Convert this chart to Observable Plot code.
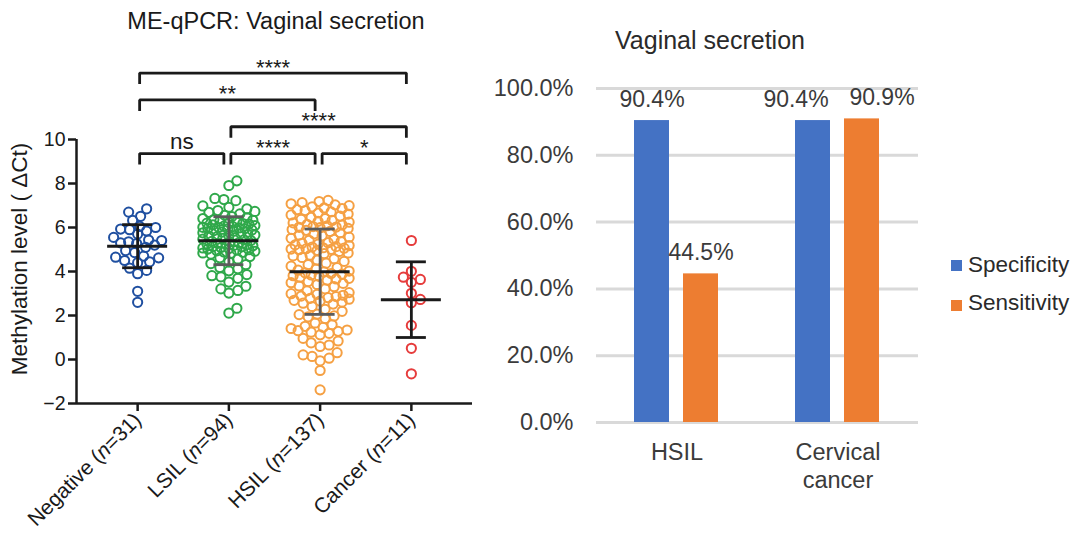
<!DOCTYPE html>
<html><head><meta charset="utf-8">
<script src="https://cdn.jsdelivr.net/npm/d3@7"></script>
<script src="https://cdn.jsdelivr.net/npm/@observablehq/plot@0.6"></script>
<style>
body{margin:0;background:#fff;}
#wrap{position:relative;width:1080px;height:547px;overflow:hidden;font-family:"Liberation Sans",Arial,Helvetica,sans-serif;color:#1a1a1a;}
.abs{position:absolute;white-space:nowrap;line-height:1;}
</style></head><body><div id="wrap"></div>
<script>
// ---------- Left panel data (ME-qPCR, ΔCt) ----------
const groups = ["Negative", "LSIL", "HSIL", "Cancer"];
const groupN = [31, 94, 137, 11];
const negative = [6.85, 6.70, 6.51, 6.32, 6.05, 6.0, 5.93, 5.9, 5.84, 5.7, 5.55, 5.43, 5.41, 5.35, 5.3, 5.27, 5.2, 5.1, 4.95, 4.86, 4.7, 4.65, 4.62, 4.5, 4.44, 4.4, 4.15, 4.05, 3.9, 3.1, 2.6];
const lsil = [8.12, 7.91, 7.32, 7.27, 7.22, 6.98, 6.92, 6.85, 6.77, 6.73, 6.69, 6.62, 6.55, 6.5,
  6.44, 6.41, 6.36, 6.33, 6.29, 6.27, 6.22, 6.18, 6.16, 6.12,
  6.09, 6.06, 6.04, 6.01, 5.98, 5.96, 5.93, 5.89, 5.86, 5.83,
  5.79, 5.76, 5.72, 5.69, 5.66, 5.61, 5.58, 5.54, 5.51, 5.47,
  5.44, 5.41, 5.37, 5.34, 5.31, 5.28, 5.26, 5.22, 5.19, 5.17,
  5.14, 5.12, 5.09, 5.07, 5.04, 5.02, 4.99, 4.97, 4.94, 4.92,
  4.89, 4.87, 4.84, 4.82, 4.79, 6.2, 6.0, 5.63, 5.24, 5.95,
  4.68, 4.57, 4.44, 4.36, 4.31, 4.18, 4.12, 4.03, 3.86, 3.81, 3.76, 3.69, 3.52, 3.33, 3.21, 3.14, 3.02, 2.33, 2.11, 4.62];
const hsil = [7.23, 7.18, 7.13, 7.08, 7.03, 6.99, 6.94, 6.89, 6.86, 6.81,
  6.77, 6.71, 6.66, 6.61, 6.57, 6.52, 6.46, 6.41, 6.37, 6.32, 6.28, 6.24, 6.21, 6.14, 6.11, 6.08, 6.04, 6.02, 5.99, 6.01,
  5.96, 5.91, 5.87, 5.82, 5.76, 5.71, 5.66, 5.62, 5.56, 5.51, 5.46, 5.42, 5.36, 5.31, 5.28, 5.24, 5.21, 5.18, 5.13, 5.11, 5.08, 5.06, 5.03, 5.01, 4.99, 5.02,
  4.96, 4.91, 4.84, 4.81, 4.74, 4.71, 4.64, 4.58, 4.52, 4.46, 4.38, 4.31, 4.24, 4.18, 4.11, 4.06, 4.02, 3.98,
  3.94, 3.91, 3.88, 3.84, 3.81, 3.78, 3.74, 3.69, 3.66, 3.61, 3.54, 3.49, 3.46, 3.41, 3.34, 3.31,
  3.21, 3.12, 3.04, 2.99, 2.96, 2.92, 2.88, 2.86, 2.81, 2.78, 2.74, 2.69, 2.66, 2.61, 2.56, 2.52,
  2.41, 2.28, 2.19, 2.06, 2.04, 1.98, 1.94, 1.86,
  1.66, 1.58, 1.51, 1.46, 1.41, 1.34, 1.31, 1.28, 1.24, 1.19, 1.12,
  0.96, 0.84, 0.76, 0.66, 0.59,
  0.31, 0.21, 0.14, 0.06, -0.06,
  -0.5, -1.38];
const cancer = [5.41, 4.01, 3.74, 3.64, 3.51, 3.01, 2.73, 2.58, 1.55, 0.51, -0.65];
const groupMeans = [5.15, 5.40, 3.99, 2.72];
const groupSDs = [0.98, 1.09, 1.94, 1.72];
const yTicks = [-2, 0, 2, 4, 6, 8, 10];
const brackets = [
  {a: 0, b: 1, tier: 0, label: "ns"},
  {a: 1, b: 2, tier: 0, label: "****"},
  {a: 2, b: 3, tier: 0, label: "*"},
  {a: 1, b: 3, tier: 1, label: "****"},
  {a: 0, b: 2, tier: 2, label: "**"},
  {a: 0, b: 3, tier: 3, label: "****"}
];
// styles
const groupColors = ["#1f4fa0", "#2fa84a", "#f5a043", "#e63c3c"];
const sdColors = ["#1a1a1a", "#5c5c5c", "#5c5c5c", "#1a1a1a"];
const swarmHalfWidth = [24, 26, 29, 24];

// ---------- Right panel data ----------
const barGroups = ["HSIL", "Cervical cancer"];
const barGroupLabels = ["HSIL", "Cervical\ncancer"];
const metrics = ["Specificity", "Sensitivity"];
const specificity = [0.904, 0.904];
const sensitivity = [0.445, 0.909];
const pctTicks = [0, 0.2, 0.4, 0.6, 0.8, 1.0];
const metricColors = ["#4472c4", "#ed7d31"];
const valueLabelShift = [0, 0, -17, 20]; // px, per bar (label collision avoidance, as in figure)

// ---------- Layout ----------
const FONT = '"Liberation Sans", Arial, Helvetica, sans-serif';
const wrap = document.getElementById("wrap");
const LW = 480, LH = 547;
const LM = {top: 51, right: 8, bottom: 144, left: 76};
const xDom = [-0.67, 3.67];
const yDom = [-2, 14];
const pxX = (LW - LM.left - LM.right) / (xDom[1] - xDom[0]);
const pxY = (LH - LM.top - LM.bottom) / (yDom[1] - yDom[0]);

// deterministic beeswarm with limited width (points may overlap, as in the figure)
function swarmOffsets(vals, minDist, maxHalf) {
  const order = d3.range(vals.length).sort((a, b) => vals[a] - vals[b]);
  const cands = [0];
  for (let k = 1; k <= maxHalf; k++) cands.push(k, -k);
  const placed = [], off = new Array(vals.length);
  for (const i of order) {
    const y = vals[i] * pxY;
    let chosen = null, bestX = 0, bestD = -1;
    for (const x of cands) {
      let md = Infinity;
      for (const p of placed) {
        const dy = p.y - y;
        if (Math.abs(dy) >= minDist) continue;
        const d = Math.hypot(p.x - x, dy);
        if (d < md) md = d;
      }
      if (md >= minDist) { chosen = x; break; }
      if (md > bestD + 1e-9) { bestD = md; bestX = x; }
    }
    const x = chosen !== null ? chosen : bestX;
    placed.push({x, y});
    off[i] = x;
  }
  return off;
}

const groupValues = [negative, lsil, hsil, cancer];
const points = groupValues.flatMap((vals, gi) => {
  const off = swarmOffsets(vals, 9, swarmHalfWidth[gi]);
  return vals.map((v, k) => ({gi, v, x: gi + off[k] / pxX, c: groupColors[gi]}));
});
const summary = groups.map((g, i) => ({i, m: groupMeans[i], s: groupSDs[i], c: sdColors[i]}));
const meanHalf = 30 / pxX, capHalf = 15 / pxX;
const tierBase = 9.36, tierStep = 1.22, legLen = 0.5;
const inL = 2 / pxX, inR = 5 / pxX;
const bracketRows = brackets.map((b, k) => {
  const yTop = tierBase + b.tier * tierStep;
  return {...b, k, xL: b.a + inL, xR: b.b - inR, yTop, yLeg: yTop - legLen};
});
const bracketPts = bracketRows.flatMap(b => [
  {k: b.k, x: b.xL, y: b.yLeg}, {k: b.k, x: b.xL, y: b.yTop},
  {k: b.k, x: b.xR, y: b.yTop}, {k: b.k, x: b.xR, y: b.yLeg}
]);
const xLabel = i => `${groups[i]} (n=${groupN[i]})`;

const left = Plot.plot({
  width: LW, height: LH,
  marginTop: LM.top, marginRight: LM.right, marginBottom: LM.bottom, marginLeft: LM.left,
  x: {type: "linear", domain: xDom, axis: null},
  y: {domain: yDom, axis: null},
  color: {type: "identity"},
  style: {fontFamily: FONT, background: "transparent", color: "#1a1a1a"},
  marks: [
    Plot.dot(points, {x: "x", y: "v", r: 4.6, stroke: "c", fill: "none", strokeWidth: 2}),
    Plot.ruleX(summary, {x: "i", y1: d => d.m - d.s, y2: d => d.m + d.s, stroke: "c", strokeWidth: 2.8}),
    Plot.ruleY(summary, {y: d => d.m + d.s, x1: d => d.i - capHalf, x2: d => d.i + capHalf, stroke: "c", strokeWidth: 2.8}),
    Plot.ruleY(summary, {y: d => d.m - d.s, x1: d => d.i - capHalf, x2: d => d.i + capHalf, stroke: "c", strokeWidth: 2.8}),
    Plot.ruleY(summary, {y: "m", x1: d => d.i - meanHalf, x2: d => d.i + meanHalf, stroke: "#1a1a1a", strokeWidth: 3}),
    Plot.line(bracketPts, {x: "x", y: "y", z: "k", stroke: "#1a1a1a", strokeWidth: 2.8, strokeLinejoin: "miter", strokeLinecap: "butt"}),
    Plot.text(bracketRows.filter(b => b.label !== "ns"), {x: d => (d.xL + d.xR) / 2, y: "yTop", text: "label", lineAnchor: "bottom", dy: 1.5, fontSize: 22, fill: "#1a1a1a"}),
    Plot.text(bracketRows.filter(b => b.label === "ns"), {x: d => (d.xL + d.xR) / 2, y: "yTop", text: "label", lineAnchor: "bottom", dy: -4.5, fontSize: 22.5, fill: "#1a1a1a"}),
    Plot.ruleX([xDom[0]], {y1: d3.min(yTicks), y2: d3.max(yTicks), stroke: "#1a1a1a", strokeWidth: 2.5}),
    Plot.ruleY([d3.min(yTicks)], {stroke: "#1a1a1a", strokeWidth: 2.5}),
    Plot.axisY(yTicks, {anchor: "left", tickSize: 8, tickPadding: 3, fontSize: 19.5, strokeWidth: 2.5, label: null, color: "#1a1a1a"}),
    Plot.axisX(d3.range(groups.length), {anchor: "bottom", tickSize: 8, tickPadding: 5, tickRotate: -45, tickFormat: xLabel, fontSize: 21, strokeWidth: 2.5, label: null, color: "#1a1a1a"})
  ]
});
left.style.position = "absolute"; left.style.left = "0px"; left.style.top = "0px";
wrap.appendChild(left);

// italic "n" in category labels
left.querySelectorAll('g[aria-label="x-axis tick label"] text').forEach(t => {
  const s = t.textContent;
  const m = s.match(/^(.*\()n(=.*)$/);
  if (!m) return;
  t.textContent = "";
  const ns = "http://www.w3.org/2000/svg";
  const a = document.createElementNS(ns, "tspan"); a.textContent = m[1];
  const b = document.createElementNS(ns, "tspan"); b.textContent = "n"; b.setAttribute("font-style", "italic");
  const c = document.createElementNS(ns, "tspan"); c.textContent = m[2];
  t.append(a, b, c);
});

// ---------- Right panel ----------
const barRows = barGroups.flatMap((g, gi) => [
  {group: g, metric: metrics[0], value: specificity[gi]},
  {group: g, metric: metrics[1], value: sensitivity[gi]}
]).map((d, k) => ({...d, k}));
const groupLabelRows = barGroups.map((g, i) => ({group: g, label: barGroupLabels[i]}));
const pct = d3.format(".1%");
const valueLabelMarks = barRows.map(r => Plot.text([r], {fx: "group", x: "metric", y: "value", text: d => pct(d.value), dy: -14, dx: valueLabelShift[r.k], lineAnchor: "bottom", fontSize: 23, fill: "#3b3b3b"}));
const right = Plot.plot({
  width: 600, height: 547,
  marginTop: 88, marginRight: 162, marginBottom: 125, marginLeft: 115,
  fx: {domain: barGroups, padding: 0, axis: null},
  x: {domain: metrics, paddingInner: 0.28, paddingOuter: 0.76, axis: null},
  y: {domain: [0, 1], axis: null},
  color: {domain: metrics, range: metricColors},
  style: {fontFamily: FONT, background: "transparent", color: "#3b3b3b"},
  marks: [
    Plot.ruleY(pctTicks, {stroke: "#d9d9d9", strokeWidth: 3}),
    Plot.axisY(pctTicks, {anchor: "left", tickFormat: pct, tickSize: 0, tickPadding: 23, fontSize: 23.5, label: null, color: "#3b3b3b"}),
    Plot.barY(barRows, {fx: "group", x: "metric", y: "value", fill: "metric"}),
    ...valueLabelMarks,
    Plot.text(groupLabelRows, {fx: "group", text: "label", frameAnchor: "bottom", lineAnchor: "top", dy: 17, fontSize: 23.5, lineHeight: 1.2, fill: "#3b3b3b"})
  ]
});
right.style.position = "absolute"; right.style.left = "480px"; right.style.top = "0px";
wrap.appendChild(right);

// ---------- Titles, axis title, legend (HTML text) ----------
function addText(txt, css) {
  const d = document.createElement("div");
  d.className = "abs"; d.textContent = txt;
  Object.assign(d.style, css);
  wrap.appendChild(d);
  return d;
}
addText("ME-qPCR: Vaginal secretion", {left: "276px", top: "10px", fontSize: "23.5px", transform: "translateX(-50%)"});
addText("Methylation level ( ΔCt)", {left: "20px", top: "259px", fontSize: "22.5px", transform: "translate(-50%,-50%) rotate(-90deg)"});
addText("Vaginal secretion", {left: "710px", top: "28px", fontSize: "25px", transform: "translateX(-50%)", color: "#2a2a2a"});
metrics.forEach((m, i) => {
  const sq = document.createElement("div");
  Object.assign(sq.style, {position: "absolute", left: "951px", top: (259.5 + i * 40.5) + "px", width: "11px", height: "11px", background: metricColors[i]});
  wrap.appendChild(sq);
  addText(m, {left: "968px", top: (254.3 + i * 38) + "px", fontSize: "22.5px", color: "#2a2a2a"});
});
</script></body></html>
